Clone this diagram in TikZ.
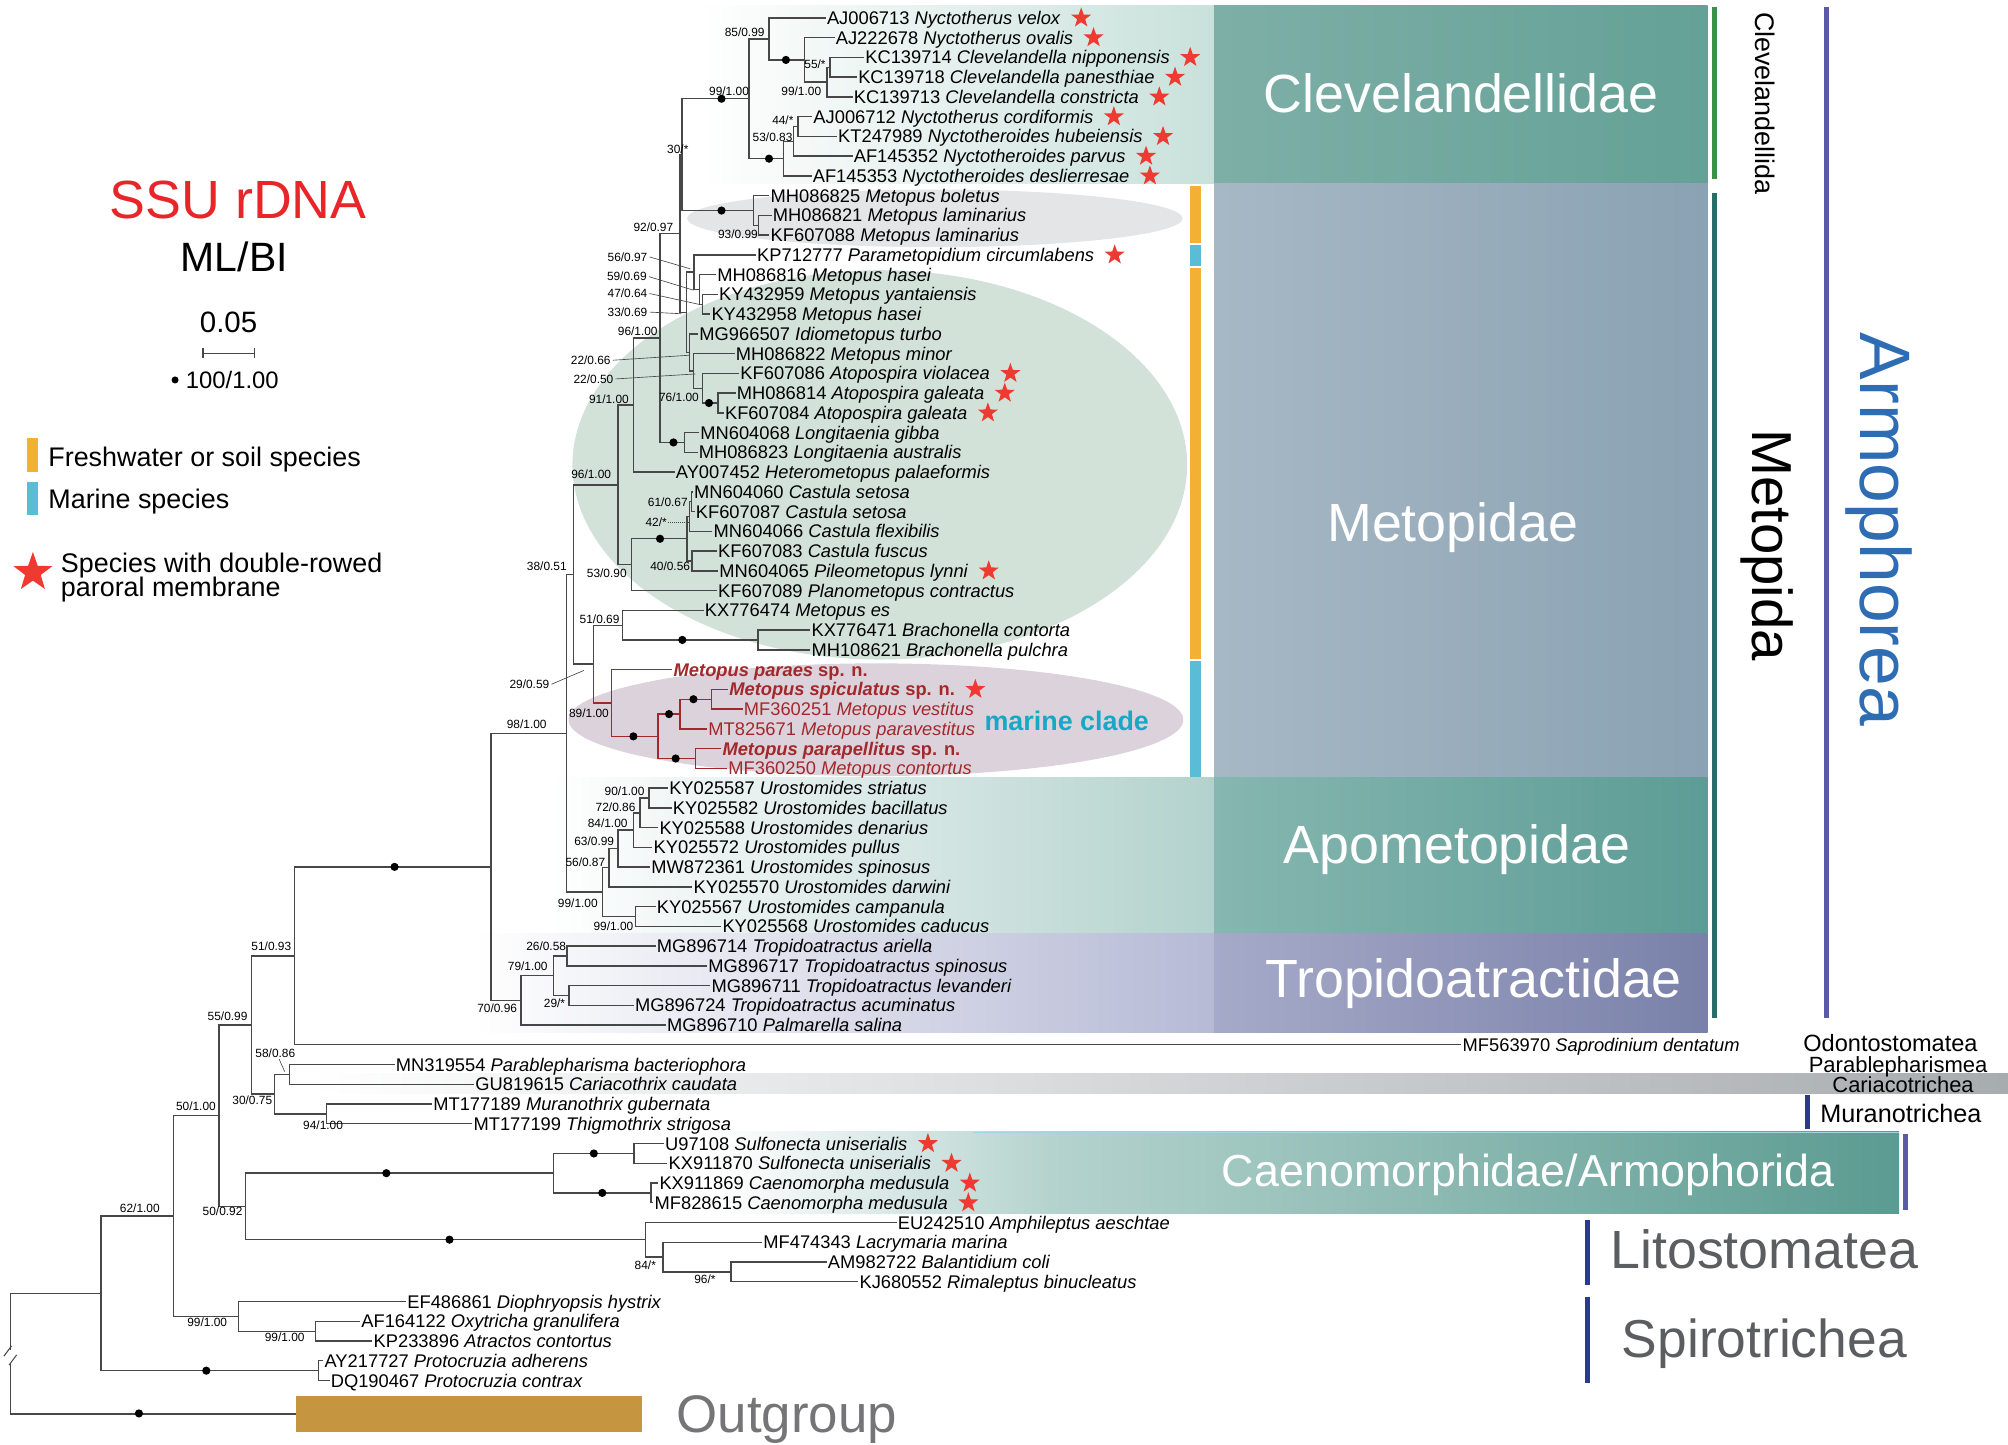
\documentclass[tikz,border=0pt]{standalone}
\usepackage{fontspec}
\setmainfont{Liberation Sans}
\usetikzlibrary{shapes.geometric}
\newcommand{\fsz}[1]{\fontsize{#1}{#1}\selectfont}
\definecolor{treec}{HTML}{474747}
\definecolor{redc}{HTML}{A3282A}
\definecolor{starc}{HTML}{EE3A30}
\definecolor{ssuc}{HTML}{E8262A}
\definecolor{orangec}{HTML}{F2B134}
\definecolor{bluec}{HTML}{5BBDD5}
\definecolor{cyanc}{HTML}{17A8C6}
\definecolor{armoc}{HTML}{2E6DB4}
\definecolor{purpc}{HTML}{5A5AA8}
\definecolor{navyc}{HTML}{2B3990}
\definecolor{metoc}{HTML}{2C6A6C}
\definecolor{clevbar}{HTML}{3A9148}
\definecolor{greyt}{HTML}{5C5D60}
\definecolor{ogc}{HTML}{C6953F}
\definecolor{clevL}{HTML}{7EAFA7}
\definecolor{clevR}{HTML}{64A196}
\definecolor{metL}{HTML}{A7B8C5}
\definecolor{metR}{HTML}{8AA2B3}
\definecolor{apoL}{HTML}{86B7B0}
\definecolor{apoR}{HTML}{5D9C96}
\definecolor{troL}{HTML}{A6AAC9}
\definecolor{troR}{HTML}{7A81A9}
\definecolor{clevband}{HTML}{C9E1DB}
\definecolor{apoband}{HTML}{B3D2CD}
\definecolor{troband}{HTML}{B6BAD5}
\definecolor{caeM}{HTML}{B5D3CE}
\definecolor{caeR}{HTML}{5B9B91}
\definecolor{cariR}{HTML}{A7ACAF}
\definecolor{greenell}{HTML}{D3E2D8}
\definecolor{greyell}{HTML}{E3E5E7}
\definecolor{marell}{HTML}{DCD2DC}
\begin{document}
\begin{tikzpicture}[x=1pt,y=-1pt,
  br/.style={draw=treec,line width=1.1pt},
  rbr/.style={draw=redc,line width=1.1pt},
  tip/.style={anchor=west,inner sep=0.8pt,font=\fsz{14.3},text height=10.2pt,text depth=0pt},
  sup/.style={inner sep=0pt,font=\fsz{9.3},text height=6.7pt,text depth=0pt},
  ldr/.style={draw=treec,line width=0.5pt},
  nd/.style={circle,fill=black,inner sep=0pt,minimum size=6.4pt},
  stardot/.style={star,star points=5,star point ratio=2.5,fill=starc,draw=none,inner sep=0pt,minimum size=16.5pt},
  grp/.style={text=white,font=\fsz{42},text height=30pt,text depth=0pt,inner sep=0pt},
  leg/.style={anchor=west,font=\fsz{21},text height=15pt,text depth=0pt,inner sep=0pt},
  sidebar/.style={line width=4pt},
]
\useasboundingbox (0,0) rectangle (1568,1128);
% ---------- background bands ----------
\shade[left color=white,right color=clevband] (545,4.3) rectangle (948,143.4);
\shade[left color=white,right color=apoband] (430,607) rectangle (948,729);
\shade[left color=white,right color=troband] (370,729) rectangle (948,806);
\shade[left color=white,right color=caeM] (560,883.8) rectangle (820,947.5);
\shade[left color=caeM,right color=caeR] (820,883.8) rectangle (1483,947.5);
\draw[color=bluec!60,line width=1pt] (760,884.3) -- (1483,884.3);
\shade[left color=white,right color=cariR] (242,838.6) rectangle (1568,854);
% ---------- clade boxes ----------
\shade[left color=clevL,right color=clevR] (948,4.3) rectangle (1333.4,143.4);
\shade[left color=metL,right color=metR] (948,143.4) rectangle (1333.4,607);
\shade[left color=apoL,right color=apoR] (948,607) rectangle (1333.4,729);
\shade[left color=troL,right color=troR] (948,729) rectangle (1333.4,806);
% ---------- ellipses ----------
\fill[greyell] (730,170.5) ellipse [x radius=193.5,y radius=22.5];
\fill[greenell] (687,363) ellipse [x radius=240,y radius=152];
\fill[marell] (684,562) ellipse [x radius=240,y radius=44];
% ---------- habitat bar ----------
\fill[orangec] (929.3,145.2) rectangle (937.8,190);
\fill[bluec] (929.3,191.2) rectangle (937.8,208);
\fill[orangec] (929.3,209) rectangle (937.8,514.8);
\fill[bluec] (929.3,516) rectangle (937.8,607);
% ---------- internal nodes ----------
\coordinate (R) at (8.1,1056.9);
\coordinate (Na62) at (78.9,1010);
\coordinate (N62) at (135.3,949.6);
\coordinate (N50a) at (171,871.2);
\coordinate (N55) at (196.5,800.4);
\coordinate (N51b) at (230,746.4);
\coordinate (N98) at (383.4,676.9);
\coordinate (Ntop) at (442.5,572.6);
\coordinate (N38) at (447.7,448.6);
\coordinate (N91) at (482.5,378.7);
\coordinate (N96a) at (494.6,316.3);
\coordinate (Nx) at (515.5,263.9);
\coordinate (N92) at (531,182.3);
\coordinate (N30) at (532.5,120.7);
\coordinate (N99) at (584.9,77.1);
\coordinate (N85) at (600.5,30.4);
\coordinate (Nov) at (628.3,46.8);
\coordinate (NA) at (645.7,64.1);
\coordinate (NB) at (648.1,52.5);
\coordinate (Ndes) at (612,123.9);
\coordinate (N53c) at (619.6,110.4);
\coordinate (N44) at (623.1,98.8);
\coordinate (Nbol) at (588.4,164.4);
\coordinate (N93) at (592.5,175.9);
\coordinate (N33) at (536,243.8);
\coordinate (N56) at (542,212.5);
\coordinate (N59) at (546,226);
\coordinate (N47) at (548.4,237.6);
\coordinate (N22a) at (538.5,275.2);
\coordinate (N22b) at (541.5,289.6);
\coordinate (Nvio) at (548.4,303.2);
\coordinate (N76) at (560.6,314.7);
\coordinate (Nlon) at (534.5,345.5);
\coordinate (N53) at (492.9,441);
\coordinate (Ndot) at (536.3,420.7);
\coordinate (N42) at (538.5,403.3);
\coordinate (N61) at (540,391.8);
\coordinate (N40) at (540.5,438.1);
\coordinate (N29) at (463.4,518.6);
\coordinate (N51) at (486,488.2);
\coordinate (Nbr) at (591.8,499.7);
\coordinate (N89) at (477.3,549);
\coordinate (Na) at (513.7,575);
\coordinate (Nb) at (531.1,557.6);
\coordinate (Ns) at (555.4,546);
\coordinate (Nc) at (543.2,592.3);
\coordinate (N99d) at (470.3,696.6);
\coordinate (N56a) at (475.5,677.6);
\coordinate (N63) at (482.5,662.6);
\coordinate (N84a) at (494.6,648.2);
\coordinate (N72) at (499.8,634.7);
\coordinate (N90) at (506.8,623.1);
\coordinate (N99c) at (496.3,715.6);
\coordinate (N70) at (406.9,781.2);
\coordinate (N79) at (432.3,761.9);
\coordinate (N26) at (442.8,746.5);
\coordinate (N29b) at (444.3,777.3);
\coordinate (N30b) at (214.2,854.4);
\coordinate (N58) at (226.2,839);
\coordinate (N94) at (255.1,869.8);
\coordinate (N50b) at (191.8,942);
\coordinate (Ncae) at (432.3,916.1);
\coordinate (Nsulf) at (495.1,900.7);
\coordinate (Ncaeno) at (508.5,931.5);
\coordinate (Nlito) at (503.9,968);
\coordinate (N84) at (517.6,981.5);
\coordinate (N96c) at (570.7,993.1);
\coordinate (Nspiro) at (186.4,1028);
\coordinate (N99b) at (246.2,1039.5);
\coordinate (Npro) at (248.6,1070.3);
% ---------- tip labels ----------
\foreach \i/\x/\a/\b in {
 1/645.6/AJ006713/Nyctotherus velox, 2/652.5/AJ222678/Nyctotherus ovalis,
 3/675.5/KC139714/Clevelandella nipponensis, 4/670/KC139718/Clevelandella panesthiae,
 5/666.5/KC139713/Clevelandella constricta, 6/635/AJ006712/Nyctotherus cordiformis,
 7/654.3/KT247989/Nyctotheroides hubeiensis, 8/666.5/AF145352/Nyctotheroides parvus,
 9/634.5/AF145353/Nyctotheroides deslierresae, 10/601.6/MH086825/Metopus boletus,
 11/603.3/MH086821/Metopus laminarius, 12/601.6/KF607088/Metopus laminarius,
 13/591.1/KP712777/Parametopidium circumlabens, 14/559.9/MH086816/Metopus hasei,
 15/561.3/KY432959/Metopus yantaiensis, 16/555.4/KY432958/Metopus hasei,
 17/546/MG966507/Idiometopus turbo, 18/574.5/MH086822/Metopus minor,
 19/578/KF607086/Atopospira violacea, 20/575.2/MH086814/Atopospira galeata,
 21/566/KF607084/Atopospira galeata, 22/546.7/MN604068/Longitaenia gibba,
 23/545.5/MH086823/Longitaenia australis, 24/527.6/AY007452/Heterometopus palaeformis,
 25/541.8/MN604060/Castula setosa, 26/543.2/KF607087/Castula setosa,
 27/557.1/MN604066/Castula flexibilis, 28/560.6/KF607083/Castula fuscus,
 29/561.6/MN604065/Pileometopus lynni, 30/560.6/KF607089/Planometopus contractus,
 31/550.2/KX776474/Metopus es, 32/633.5/KX776471/Brachonella contorta,
 33/633.5/MH108621/Brachonella pulchra,
 40/522.4/KY025587/Urostomides striatus, 41/525.2/KY025582/Urostomides bacillatus,
 42/514.8/KY025588/Urostomides denarius, 43/510.2/KY025572/Urostomides pullus,
 44/508.5/MW872361/Urostomides spinosus, 45/541.5/KY025570/Urostomides darwini,
 46/512.7/KY025567/Urostomides campanula, 47/564/KY025568/Urostomides caducus,
 48/512.7/MG896714/Tropidoatractus ariella, 49/553/MG896717/Tropidoatractus spinosus,
 50/555.4/MG896711/Tropidoatractus levanderi, 51/495.7/MG896724/Tropidoatractus acuminatus,
 52/520.7/MG896710/Palmarella salina, 53/1142/MF563970/Saprodinium dentatum,
 54/309/MN319554/Parablepharisma bacteriophora, 55/371.1/GU819615/Cariacothrix caudata,
 56/338.2/MT177189/Muranothrix gubernata, 57/369.6/MT177199/Thigmothrix strigosa,
 58/519.2/U97108/Sulfonecta uniserialis, 59/522/KX911870/Sulfonecta uniserialis,
 60/514.8/KX911869/Caenomorpha medusula, 61/511/MF828615/Caenomorpha medusula,
 62/701/EU242510/Amphileptus aeschtae, 63/595.9/MF474343/Lacrymaria marina,
 64/646.3/AM982722/Balantidium coli, 65/671/KJ680552/Rimaleptus binucleatus,
 66/317.9/EF486861/Diophryopsis hystrix, 67/282/AF164122/Oxytricha granulifera,
 68/291.6/KP233896/Atractos contortus, 69/253.3/AY217727/Protocruzia adherens,
 70/258.1/DQ190467/Protocruzia contrax}{
  \pgfmathsetmacro\yy{14+15.42*(\i-1)}
  \node[tip] (t\i) at (\x-0.8,\yy) {\a\ \textit{\b}};
}
\node[tip,text=redc] (t34) at (525.1,522.86) {\textbf{\textit{Metopus paraes} sp. n.}};
\node[tip,text=redc] (t35) at (568.5,538.28) {\textbf{\textit{Metopus spiculatus} sp. n.}};
\node[tip,text=redc] (t36) at (579.9,553.7) {MF360251 \textit{Metopus vestitus}};
\node[tip,text=redc] (t37) at (552.2,569.12) {MT825671 \textit{Metopus paravestitus}};
\node[tip,text=redc] (t38) at (563.2,584.54) {\textbf{\textit{Metopus parapellitus} sp. n.}};
\node[tip,text=redc] (t39) at (567.8,599.96) {MF360250 \textit{Metopus contortus}};
\foreach \i in {1,...,9,13,19,20,21,29,35,58,59,60,61}
  \node[stardot] (s\i) at ([xshift=15pt]t\i.east) {};
% ---------- outgroup bar ----------
\node[fill=ogc,minimum width=270.1pt,minimum height=28pt,anchor=west,inner sep=0pt] (ogbar) at (230.9,1104) {};
% ---------- branches ----------
\foreach \p/\c in {R/Na62,Na62/N62,Na62/Npro,N62/N50a,N62/Nspiro,N50a/N55,N50a/N50b,
 N55/N51b,N55/N30b,N51b/N98,N51b/t53,N98/Ntop,N98/N70,Ntop/N38,Ntop/N99d,N38/N91,N38/N29,
 N29/N51,N91/N96a,N91/N53,N96a/Nx,N96a/t24,Nx/N92,Nx/Nlon,N92/N30,N92/N33,N30/N99,N30/Nbol,
 N99/N85,N99/Ndes,N85/t1,N85/Nov,Nov/t2,Nov/NA,NA/NB,NA/t5,NB/t3,NB/t4,Ndes/N53c,Ndes/t9,
 N53c/N44,N53c/t8,N44/t6,N44/t7,Nbol/t10,Nbol/N93,N93/t11,N93/t12,N33/N56,N33/N22a,
 N56/t13,N56/N59,N59/t14,N59/N47,N47/t15,N47/t16,N22a/t17,N22a/N22b,N22b/t18,N22b/Nvio,
 Nvio/t19,Nvio/N76,N76/t20,N76/t21,Nlon/t22,Nlon/t23,N53/Ndot,N53/t30,Ndot/N42,Ndot/N40,
 N42/N61,N42/t27,N61/t25,N61/t26,N40/t28,N40/t29,N51/t31,N51/Nbr,Nbr/t32,Nbr/t33,
 N99d/N56a,N99d/N99c,N56a/N63,N56a/t45,N63/N84a,N63/t44,N84a/N72,N84a/t43,N72/N90,N72/t42,
 N90/t40,N90/t41,N99c/t46,N99c/t47,N70/N79,N70/t52,N79/N26,N79/N29b,N26/t48,N26/t49,
 N29b/t50,N29b/t51,N30b/N58,N30b/N94,N58/t54,N58/t55,N94/t56,N94/t57,N50b/Ncae,N50b/Nlito,
 Ncae/Nsulf,Ncae/Ncaeno,Nsulf/t58,Nsulf/t59,Ncaeno/t60,Ncaeno/t61,Nlito/t62,Nlito/N84,
 N84/t63,N84/N96c,N96c/t64,N96c/t65,Nspiro/t66,Nspiro/N99b,N99b/t67,N99b/t68,Npro/t69,Npro/t70}
  \draw[br] (\p) |- (\c);
\draw[br] (R) |- (ogbar.west);
\foreach \p/\c in {N29/N89,N89/t34,N89/Na,Na/Nb,Na/Nc,Nb/Ns,Nb/t37,Ns/t35,Ns/t36,Nc/t38,Nc/t39}
  \draw[rbr] (\p) |- (\c);
% root break
\fill[white] (3,1054) rectangle (13,1064);
\draw[br,line width=0.8pt] (3,1059) -- (9,1051);
\draw[br,line width=0.8pt] (7,1066) -- (13,1058);
% ---------- full-support dots ----------
\foreach \x/\y [count=\k] in {563.4/77.1,613.7/46.8,600.5/123.9,563.4/164.4,553.6/314.7,
 525.9/345.5,515.4/420.7,532.8/499.7,494.6/575,522.4/557.6,541.5/546,527.6/592.3,
 308.1/676.9,301.7/916.1,463.7/900.7,470.3/931.5,351/968,161.1/1070.3,108.5/1103.7}
  \node[nd] (d\k) at (\x,\y) {};
% ---------- support values ----------
\foreach \x/\y/\a/\b [count=\k] in {581.5/25.1/85/0.99,569.3/71.4/99/1.00,636.4/50.3/55/*,
 625.7/71.4/99/1.00,611.3/93.9/44/*,603.3/107.1/53/0.83,529.3/116.4/30/*,510.2/177.2/92/0.97,
 576.2/182.5/93/0.99,498/258.8/96/1.00,475.5/311.7/91/1.00,530.2/310.4/76/1.00,
 461.6/370/96/1.00,521.5/392/61/0.67,523.3/442.3/40/0.56,473.8/447.6/53/0.90,
 427/442.3/38/0.51,468.2/483.3/51/0.69,459.9/557.3/89/1.00,411.3/565.6/98/1.00,
 487.7/617.8/90/1.00,480.7/630.5/72/0.86,474.5/642.9/84/1.00,464/656.9/63/0.99,
 457.1/673.3/56/0.87,451.2/705.1/99/1.00,479/723.6/99/1.00,426.5/738.7/26/0.58,
 412.1/754.8/79/1.00,433/783.4/29/*,388.2/787.4/70/0.96,211.9/739.2/51/0.93,
 177.7/793.9/55/0.99,197/858.9/30/0.75,252.3/878.5/94/1.00,153/864.1/50/1.00,
 173.8/946.1/50/0.92,109.2/943.6/62/1.00,161.8/1032.6/99/1.00,222.3/1043.8/99/1.00,
 503.9/987.8/84/*,550.4/998.7/96/*}
  \node[sup] (v\k) at (\x,\y) {\a/\b};
\node[sup] (w1) at (490,200.6) {56/0.97};
\node[sup] (w2) at (489.5,216) {59/0.69};
\node[sup] (w3) at (490,229.2) {47/0.64};
\node[sup] (w4) at (490,243.7) {33/0.69};
\node[sup] (w5) at (461.3,281.3) {22/0.66};
\node[sup] (w6) at (463.4,295.9) {22/0.50};
\node[sup] (w7) at (512.4,407.9) {42/*};
\node[sup] (w8) at (413.4,534.3) {29/0.59};
\node[sup] (w9) at (215,822.5) {58/0.86};
\coordinate (k1) at (539,209.9);
\coordinate (k2) at (541.5,226.6);
\coordinate (k3) at (546,237.7);
\coordinate (k4) at (532.1,245);
\coordinate (k5) at (538,277.4);
\coordinate (k6) at (543,292);
\coordinate (k7) at (538,407.9);
\coordinate (k8) at (456,523.5);
\coordinate (k9) at (222.3,836.8);
\foreach \k in {1,...,6}
  \draw[ldr] ([xshift=1.5pt]w\k.east) -- (k\k);
\draw[ldr,densely dotted] ([xshift=1pt]w7.east) -- (k7);
\draw[ldr] ([xshift=1.5pt]w8.east) -- (k8);
\draw[ldr] ([yshift=-1pt]w9.south) ++(3,0) -- (k9);
% ---------- clade names ----------
\node[grp] (gClev) at (1141,72.5) {Clevelandellidae};
\node[grp] (gMet) at (1134.5,407.7) {Metopidae};
\node[grp] (gApo) at (1137.8,659.6) {Apometopidae};
\node[grp] (gTro) at (1150.7,764) {Tropidoatractidae};
\node[text=white,font=\fsz{35},text height=25pt,text depth=0pt,inner sep=0pt] (gCae) at (1193.5,914.3) {Caenomorphidae/Armophorida};
\node[font=\fsz{21},text=cyanc,text height=15pt,text depth=0pt,inner sep=0pt] (mar) at (833,563) {\textbf{marine clade}};
% ---------- right-side bars and labels ----------
\draw[sidebar,clevbar] (1339,5.4) -- (1339,139.8);
\draw[sidebar,metoc] (1339,150.6) -- (1339,794.8);
\draw[sidebar,purpc,line width=3.5pt] (1426.4,5.4) -- (1426.4,794.8);
\draw[sidebar,navyc] (1411.2,854.9) -- (1411.2,881.9);
\draw[sidebar,purpc] (1488.2,885.6) -- (1488.2,944.9);
\draw[sidebar,navyc,line width=4.5pt] (1239.6,952.3) -- (1239.6,1003.1);
\draw[sidebar,navyc,line width=4.5pt] (1239.6,1012.7) -- (1239.6,1080.1);
\node[rotate=-90,font=\fsz{21},inner sep=0pt] (cl) at (1378.7,80.7) {Clevelandellida};
\node[rotate=-90,font=\fsz{44},inner sep=0pt] (mt) at (1380,425.7) {Metopida};
\node[rotate=-90,font=\fsz{55.8},text=armoc,inner sep=0pt] (ar) at (1467.4,413.5) {Armophorea};
\node[anchor=west,font=\fsz{18.4},text height=13.2pt,text depth=0pt,inner sep=0pt] (od) at (1408,814.3) {Odontostomatea};
\node[anchor=west,font=\fsz{17.2},text height=12.3pt,text depth=0pt,inner sep=0pt] (pb) at (1412.2,831.3) {Parablepharismea};
\node[anchor=west,font=\fsz{17.1},text height=12.2pt,text depth=0pt,inner sep=0pt] (ca) at (1430.7,846.7) {Cariacotrichea};
\node[anchor=west,font=\fsz{19.7},text height=14.1pt,text depth=0pt,inner sep=0pt] (mu) at (1421.2,869.5) {Muranotrichea};
\node[font=\fsz{42},text=greyt,text height=30pt,text depth=0pt,inner sep=0pt] (li) at (1377.7,975.5) {Litostomatea};
\node[font=\fsz{41.7},text=greyt,text height=29.9pt,text depth=0pt,inner sep=0pt] (sp) at (1377.7,1044.9) {Spirotrichea};
\node[anchor=west,font=\fsz{41.3},text=greyt!85!white,text height=29.6pt,text depth=0pt,inner sep=0pt] (og) at (528.2,1103.7) {Outgroup};
% ---------- legend ----------
\node[font=\fsz{42},text=ssuc,text height=30pt,text depth=0pt,inner sep=0pt] (ssu) at (186,156) {SSU rDNA};
\node[font=\fsz{32},text height=23pt,text depth=0pt,inner sep=0pt] (mlbi) at (183,200.4) {ML/BI};
\node[font=\fsz{23},text height=16.5pt,text depth=0pt,inner sep=0pt] (sc) at (178.5,251.2) {0.05};
\coordinate (sbl) at (158.4,275.9);
\coordinate (sbr) at (198.6,275.9);
\draw[draw=treec,line width=1.2pt] (sbl) -- (sbr);
\draw[draw=treec,line width=1.2pt] ([yshift=4pt]sbl) -- ([yshift=-4pt]sbl);
\draw[draw=treec,line width=1.2pt] ([yshift=4pt]sbr) -- ([yshift=-4pt]sbr);
\node[nd,minimum size=5.5pt] (ldot) at (136.7,296.7) {};
\node[anchor=west,font=\fsz{18.6},text height=13.3pt,text depth=0pt,inner sep=0pt] (lsup) at (145,296.7) {100/1.00};
\fill[orangec] (20.9,342.3) rectangle (29.3,368.3);
\node[leg] (lfw) at (37.6,356.6) {Freshwater or soil species};
\fill[bluec] (20.9,376) rectangle (29.3,402);
\node[leg] (lma) at (37.6,389.2) {Marine species};
\node[stardot,minimum size=32pt] (lst) at (25.7,447) {};
\node[leg] (lsp1) at (47.4,439.9) {Species with double-rowed};
\node[leg] (lsp2) at (47.4,458.1) {paroral membrane};
\end{tikzpicture}
\end{document}
